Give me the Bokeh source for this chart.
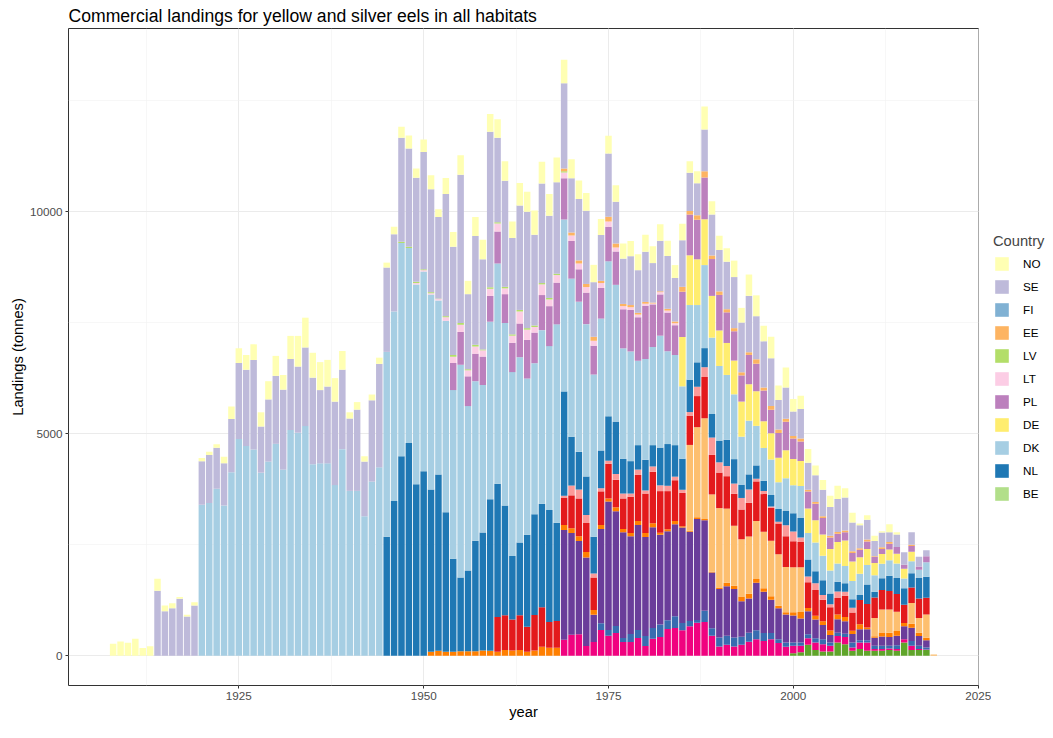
from bokeh.plotting import figure
from bokeh.models import ColumnDataSource, Legend, LegendItem, SingleIntervalTicker, Range1d
from bokeh.layouts import row
from bokeh.embed import file_html
from bokeh.resources import INLINE

FIRST, LAST = 1908, 2019
years = list(range(FIRST, LAST + 1))

# ---- data (tonnes), each list starts at the given year ----
NO_start = 1908
NO = [270, 320, 290, 380, 170, 210, 270, 130, 110, 40, 40, 70,
      70, 70, 80, 150, 280, 330, 330, 350, 320, 410, 450, 330, 520, 690, 670, 560, 630, 600, 530, 420, 140, 170, 120, 130, 140,
      110, 170, 250, 290, 210, 280, 310, 170, 360, 330, 440, 300, 430, 440, 400, 420, 440, 370, 510, 450, 550, 490, 490, 560, 530,
      430, 420, 400, 390, 360, 400, 370, 340, 340, 360, 380, 380, 370, 340, 290, 370, 260, 270, 520, 300, 320, 300, 370, 330, 480, 470, 350, 480, 330,
      450, 280, 300, 310, 220, 220, 250, 300, 210, 220, 40, 100, 120, 30, 180, 50]
SE_start = 1914
SE = [1460, 1000, 1070, 1280, 880, 1130,
      980, 1080, 920, 950, 1200, 1710, 1720, 2020, 1040, 1400, 1530, 1800, 1600, 1490, 1770, 1950, 1650, 1730, 1880, 1790, 1630, 1830, 1230, 1830, 2330,
      1900, 1740, 2340, 2210, 2340, 2640, 2320, 1840, 2750, 2440, 3340, 1690, 2450, 2030, 3500, 1900, 2390, 2170, 2350, 2620, 2040, 2240, 1850, 2060, 1920,
      1220, 1380, 1650, 1230, 1030, 1420, 940, 1020, 1100, 960, 1130, 890, 1140, 1190, 980, 1050, 860, 720, 940, 920, 930, 1070, 1150, 1120, 1270, 970, 1040, 1080, 660,
      700, 550, 660, 610, 600, 600, 650, 740, 740, 650, 520, 450, 340, 330, 220, 280, 280, 280, 220, 140]
FI_start = 1908
FI = []
EE_start = 1969
EE = [60, 70, 70, 70, 90, 50, 110, 90, 50, 50, 40, 40, 20, 20, 40, 40, 110, 80, 100, 140, 80, 80, 70, 70, 70, 60, 100, 70, 80, 80,
      70, 60, 70, 40, 40, 40, 40, 40, 40, 40, 30, 40, 20, 40, 40, 0, 0, 30]
LV_start = 1947
LV = [30, 30, 30, 20, 25, 10, 25, 40, 40, 25, 40, 20, 35, 30, 35, 30, 35, 35, 35, 30, 35, 30, 30]
LT_start = 1949
LT = [30, 30, 30, 30, 80, 140, 160, 135, 160, 140, 160, 180, 130, 160, 270, 230, 125, 240, 150, 170, 130,
      125, 130, 125, 110, 110, 115, 90, 70, 60, 60, 45, 20, 50, 45, 45]
PL_start = 1954
PL = [610, 740, 670, 620, 640, 580, 720, 650, 660, 760, 870, 690, 790, 900, 940, 930,
      845, 730, 710, 650, 690, 780, 750, 880, 935, 980, 1200, 960, 930, 870, 670, 1020, 920, 890, 940, 830, 800, 690, 660, 590, 660, 620, 690, 530, 560,
      640, 460, 440, 380, 370, 370, 260, 190, 190, 190, 170, 170, 130, 110, 130, 150, 90, 130, 70, 130]
DE_start = 1985
DE = [1110, 1120, 1030, 1030, 940, 800, 720, 760, 790, 820, 780, 600, 590, 550, 630, 590, 560, 550, 500, 480, 480, 480, 570, 440,
      370, 360, 280, 220, 240, 220, 220, 210]
DK_start = 1920
DK = [3400, 3440, 3760, 3380, 4130, 4880, 4720, 4640, 4120, 4370, 4770, 4190, 5080, 5020, 5170, 4310, 4330, 4330, 3840, 4650, 3710, 3710, 3140, 3920, 4240,
      4160, 4270, 4800, 4390, 4500, 4500, 4390, 3920, 4310, 3800, 4790, 3700, 3590, 3320, 4000, 4960, 4110, 4140, 4170, 3520, 3400, 3910, 3690, 4470, 3870,
      3560, 3380, 3430, 3650, 2970, 3490, 3080, 2490, 2470, 1900, 2270, 2210, 2520, 2090, 2030, 1630, 1680, 1290, 1870, 1720, 1680, 1460, 1460, 1080, 1210, 890, 740, 800, 600,
      740, 630, 720, 600, 650, 550, 520, 410, 390, 410, 480, 440, 370, 330, 350, 330, 220, 270, 190, 330]
NL_start = 1945
NL = [2680, 3480, 4490, 4790, 3860, 4150, 3650, 3970, 3140, 2090, 1660, 1820, 2490, 2660, 3410, 3000, 2470, 1430, 1640, 2070, 2270, 2330, 2520, 2210, 2350,
      1100, 850, 870, 830, 850, 1000, 1180, 780, 730, 550, 690, 480, 850, 940, 710, 700, 730, 550, 430, 530, 490, 590, 550, 300, 340, 300, 230, 260, 290,
      320, 410, 440, 380, 270, 330, 240, 220, 190, 190, 110, 440, 130, 260, 340, 360, 370, 320, 460, 470]
BE_start = 1908
BE = []
IE_start = 1969
IE = [40, 220, 200, 180, 90, 70, 70, 130, 110, 70, 120, 70, 120, 130, 120, 80, 70, 80, 210, 220, 390, 230, 230, 230, 260, 300, 60, 70, 30, 40,
      250, 220, 100, 130, 150, 110, 70, 150, 90, 110]
GB_start = 1960
GB = [780, 780, 700, 780, 560, 800, 890, 580, 600, 620,
      740, 850, 650, 730, 760, 780, 620, 690, 820, 1040, 890, 1160, 940, 860, 920, 750, 660, 700, 930, 890, 800, 730, 720, 670, 760, 890, 850, 740, 690,
      690, 590, 570, 580, 580, 480, 520, 370, 480, 410, 550, 530, 460, 440, 420, 400, 410, 350, 440, 380]
FR_start = 1986
FR = [1930, 2030, 2270, 1740, 1790, 1670, 1350, 1290, 1290, 1310, 1270, 1250, 1160, 1020, 1010, 1010,
      0, 0, 0, 0, 0, 0, 0, 0, 0, 410, 520, 520, 430, 0, 470, 330, 520, 25]
ES_start = 1951
ES = [90, 110, 90, 90, 100, 100, 100, 115, 110, 90, 130, 115, 130, 90, 115, 200, 180, 180, 110,
      110, 110, 125, 110, 90, 70, 90, 70, 70, 90, 90, 90, 45, 45, 70, 30, 25, 40, 25, 16, 33, 80, 75, 105, 105, 80, 80, 80, 57,
      52, 73, 147, 74, 88, 88, 104, 110, 96, 74, 111, 37, 37, 89, 96, 111, 74, 89, 74, 59]
IT_start = 1969
IT = [2470, 2290, 2100, 1990, 610, 2120, 2890, 2580, 2380, 2200, 2360, 2230, 2270, 2020, 2000, 2070, 2150, 2010, 2270, 2040, 1260, 1090, 1110, 1090, 800, 770, 1070, 930, 750, 700,
      630, 610, 540, 520, 420, 320, 170, 300, 280, 190, 250, 250, 180, 210, 200, 210, 295, 296, 221, 162]
HR_start = 1974
HR = [150, 130, 160, 90, 180, 180, 220, 240, 280, 200, 270, 165, 120, 65, 250, 165, 205, 205, 205, 180, 205, 205, 180, 140, 80,
      95, 73, 73, 88, 97, 111, 73, 74, 74, 110, 50, 50, 74, 74, 60, 88, 0, 110, 74, 45]
GR_start = 1969
GR = [360, 470, 480, 220, 310, 580, 450, 510, 310, 310, 400, 220, 380, 420, 600, 620, 570, 660, 740, 760, 450, 205, 246, 205, 246, 312, 369, 328, 369, 287,
      200, 170, 148, 148, 169, 162, 126, 148, 162, 74, 147, 185, 37, 37, 36, 37, 74, 96, 22, 14]
TN_start = 2000
TN = [52, 74, 244, 126, 96, 96, 295, 259, 111, 148, 111, 111, 111, 126, 111, 295, 126, 126, 126]

# stacking order, bottom first
stack_order = ["TN", "GR", "HR", "IT", "ES", "FR", "GB", "IE", "BE", "NL", "DK", "DE", "PL", "LT", "LV", "EE", "FI", "SE", "NO"]
colors = {
    "NO": "#FFFFB3", "SE": "#BEBADA", "FI": "#80B1D3", "EE": "#FDB462", "LV": "#B3DE69",
    "LT": "#FCCDE5", "PL": "#BC80BD", "DE": "#FFED6F", "DK": "#A6CEE3", "NL": "#1F78B4",
    "BE": "#B2DF8A", "IE": "#FB9A99", "GB": "#E31A1C", "FR": "#FDBF6F", "ES": "#FF7F00",
    "IT": "#6A3D9A", "HR": "#386CB0", "GR": "#F0027F", "TN": "#5FA52A",
}
legend_order = ["NO", "SE", "FI", "EE", "LV", "LT", "PL", "DE", "DK", "NL", "BE"]

g = globals()
data = {"year": years}
for c in stack_order:
    full = [0] * len(years)
    start = g[c + "_start"]
    for i, v in enumerate(g[c]):
        full[start - FIRST + i] = v
    data[c] = full
source = ColumnDataSource(data)

FONT = "Liberation Sans"
FIG_H = 722
p = figure(width=991, height=FIG_H, output_backend="svg", toolbar_location=None,
           x_range=Range1d(1901.96, 2025.05), y_range=Range1d(-672, 14122),
           min_border_left=68, min_border_right=13, min_border_top=28, min_border_bottom=33,
           title="Commercial landings for yellow and silver eels in all habitats")
p.title.text_font = FONT
p.title.text_font_size = "17.6px"
p.title.text_font_style = "normal"
p.title.text_color = "black"
p.title.standoff = 5
p.title.offset = 0

renderers = p.vbar_stack(stack_order, x="year", width=0.88, source=source,
                         color=[colors[c] for c in stack_order], line_color=None)

p.background_fill_color = "white"
p.border_fill_color = "white"
p.outline_line_color = "#333333"
p.outline_line_width = 1

p.xaxis.ticker = SingleIntervalTicker(interval=25, num_minor_ticks=2)
p.yaxis.ticker = SingleIntervalTicker(interval=5000, num_minor_ticks=2)
for ax in (p.xaxis, p.yaxis):
    ax.axis_line_color = None
    ax.major_tick_line_color = "#333333"
    ax.major_tick_out = 3
    ax.major_tick_in = 0
    ax.minor_tick_line_color = None
    ax.major_label_text_font = FONT
    ax.major_label_text_font_size = "11.7px"
    ax.major_label_text_color = "#4D4D4D"
    ax.major_label_standoff = 2
    ax.axis_label_text_font = FONT
    ax.axis_label_text_font_size = "14.7px"
    ax.axis_label_text_font_style = "normal"
    ax.axis_label_text_color = "black"
    ax.axis_label_standoff = 1
p.xaxis.axis_label = "year"
p.yaxis.axis_label = "Landings (tonnes)"

for gr in (p.xgrid, p.ygrid):
    gr.grid_line_color = "#EBEBEB"
    gr.grid_line_width = 1
    gr.minor_grid_line_color = "#F2F2F2"
    gr.minor_grid_line_width = 0.6

# legend panel: a narrow companion figure whose view holds no bars
lp = figure(width=54, height=FIG_H, output_backend="svg", toolbar_location=None,
            x_range=Range1d(0, 1), y_range=Range1d(0, 1), min_border=0,
            x_axis_type=None, y_axis_type=None)
lp.grid.visible = False
lp.outline_line_color = None
lp.background_fill_color = "white"
lp.border_fill_color = "white"
leg_renderers = lp.vbar_stack(stack_order, x="year", width=0.88, source=source,
                              color=[colors[c] for c in stack_order], line_color=None)
lmap = dict(zip(stack_order, leg_renderers))

legend = Legend(items=[LegendItem(label=c, renderers=[lmap[c]]) for c in legend_order],
                title="Country", location=(2, 183), orientation="vertical")
legend.title_text_font = FONT
legend.title_text_font_size = "14.7px"
legend.title_text_font_style = "normal"
legend.title_standoff = 6
legend.label_text_font = FONT
legend.label_text_font_size = "11.7px"
legend.label_text_color = "black"
legend.glyph_width = 17
legend.glyph_height = 17
legend.label_height = 17
legend.spacing = 6
legend.label_standoff = 13
legend.padding = 0
legend.margin = 0
legend.border_line_color = None
legend.background_fill_alpha = 0
lp.add_layout(legend)

layout = row(p, lp)
open("out.html", "w").write(file_html(layout, INLINE))
